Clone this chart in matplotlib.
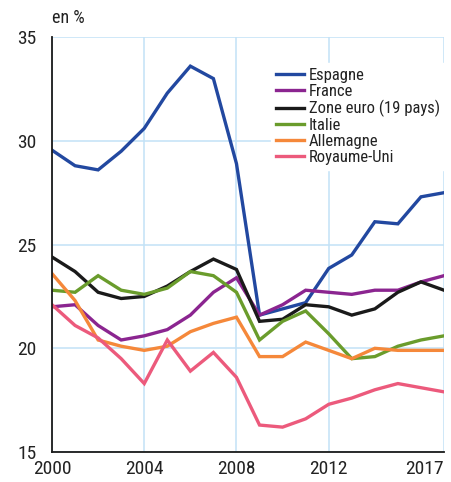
import warnings
warnings.filterwarnings('ignore')

import matplotlib
matplotlib.use('Agg')
import matplotlib.pyplot as plt

plt.rcParams['font.family'] = ['Roboto Condensed', 'Arial Narrow', 'PT Sans Narrow',
                               'Archivo Narrow', 'Liberation Sans Narrow',
                               'Liberation Sans', 'DejaVu Sans']

years = list(range(2000, 2018))

espagne = [29.55, 28.8, 28.6, 29.5, 30.6, 32.3, 33.6, 33.0, 28.9, 21.6,
           21.9, 22.2, 23.85, 24.5, 26.1, 26.0, 27.3, 27.5]
france = [22.0, 22.1, 21.1, 20.4, 20.6, 20.9, 21.6, 22.7, 23.4, 21.6,
          22.1, 22.8, 22.7, 22.6, 22.8, 22.8, 23.2, 23.5]
zone_euro = [24.4, 23.7, 22.7, 22.4, 22.5, 23.0, 23.7, 24.3, 23.8, 21.3,
             21.4, 22.1, 22.0, 21.6, 21.9, 22.7, 23.2, 22.8]
italie = [22.8, 22.7, 23.5, 22.8, 22.6, 22.9, 23.7, 23.5, 22.7, 20.4,
          21.3, 21.8, 20.7, 19.5, 19.6, 20.1, 20.4, 20.6]
allemagne = [23.6, 22.3, 20.4, 20.1, 19.9, 20.1, 20.8, 21.2, 21.5, 19.6,
             19.6, 20.3, 19.9, 19.5, 20.0, 19.9, 19.9, 19.9]
royaume_uni = [22.1, 21.1, 20.5, 19.5, 18.3, 20.4, 18.9, 19.8, 18.6, 16.3,
               16.2, 16.6, 17.3, 17.6, 18.0, 18.3, 18.1, 17.9]

series = [
    ('Espagne', espagne, '#2248a0'),
    ('France', france, '#8b2590'),
    ('Zone euro (19 pays)', zone_euro, '#1a1a1a'),
    ('Italie', italie, '#6a9c2c'),
    ('Allemagne', allemagne, '#f5883a'),
    ('Royaume-Uni', royaume_uni, '#ec5a7c'),
]

x_ticks = [2000, 2004, 2008, 2012, 2017]
y_ticks = [15, 20, 25, 30, 35]

fig = plt.figure(figsize=(4.51, 4.82), dpi=100)
ax = fig.add_axes([0.1153, 0.0622, 0.8692, 0.8608])

for name, vals, col in series:
    ax.plot(years, vals, color=col, lw=2.4, label=name, solid_joinstyle='miter')

ax.set_xlim(2000, 2017)
ax.set_ylim(15, 35)
ax.set_xticks(x_ticks)
ax.set_yticks(y_ticks)
ax.grid(True, color='#c2e2f7', lw=1.1)
ax.set_axisbelow(True)
ax.tick_params(length=0, labelsize=14, colors='#222222')
ax.tick_params(axis='x', pad=6)
ax.tick_params(axis='y', pad=11)
for s in ['top', 'right']:
    ax.spines[s].set_visible(False)
for s in ['left', 'bottom']:
    ax.spines[s].set_color('#1a1a1a')
    ax.spines[s].set_linewidth(1.3)

# last year label sits against the right edge
ax.get_xticklabels()[-1].set_horizontalalignment('right')
fig.canvas.draw()
lbl = ax.get_xticklabels()[-1]
lbl.set_horizontalalignment('right')

fig.text(0.1153, 0.963, 'en %', fontsize=13, color='#222222', va='center')

leg = ax.legend(loc='upper left', bbox_to_anchor=(0.559, 0.937), frameon=True,
                fontsize=12, handlelength=1.7, handletextpad=0.25,
                labelspacing=0.05, borderpad=0.3, borderaxespad=0,
                fancybox=False)
leg.get_frame().set_facecolor('white')
leg.get_frame().set_edgecolor('white')
leg.get_frame().set_alpha(1)
for t in leg.get_texts():
    t.set_color('#222222')

fig.savefig('out.png', dpi=100)
